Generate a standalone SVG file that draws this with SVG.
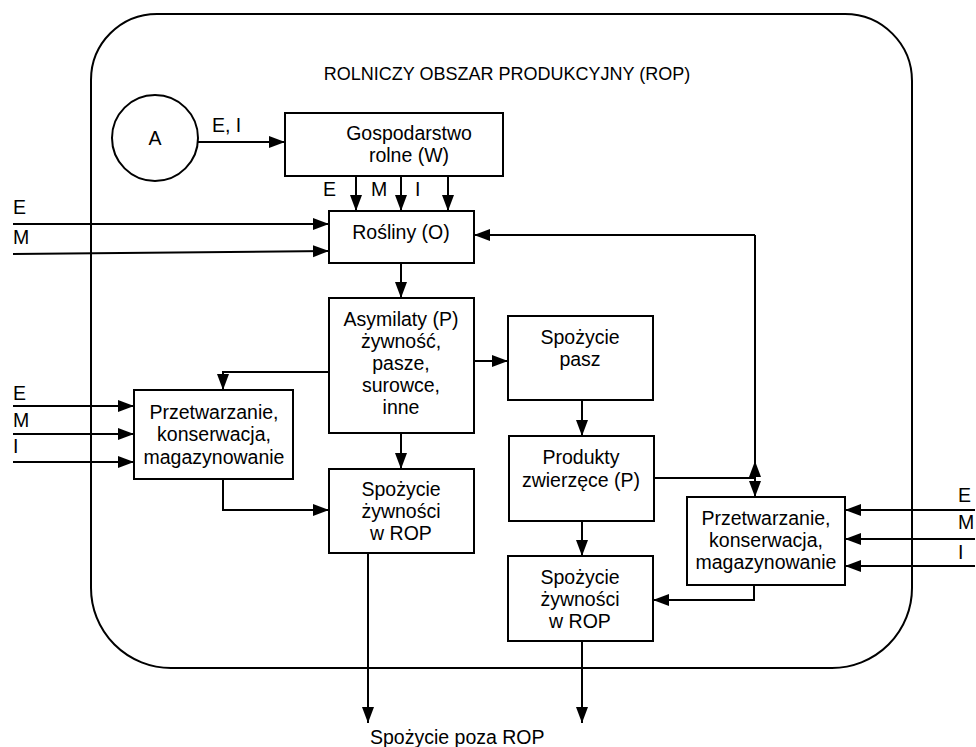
<svg xmlns="http://www.w3.org/2000/svg" width="976" height="747" viewBox="0 0 976 747">
  <style>
    text { font-family: "Liberation Sans", Arial, sans-serif; font-size: 19.5px; fill: #000; }
    .c { text-anchor: middle; }
    .title { font-size: 18px; }
    .box { fill: #fff; stroke: #000; stroke-width: 2; }
    .frame { fill: none; stroke: #000; stroke-width: 2; }
    .wire { fill: none; stroke: #000; stroke-width: 2; }
    .arr { marker-end: url(#head); }
  </style>
  <defs>
    <marker id="head" markerUnits="userSpaceOnUse" markerWidth="17" markerHeight="13" refX="16" refY="6" orient="auto">
      <path d="M0,0 L16,6 L0,12 Z" fill="#000"/>
    </marker>
  </defs>

  <rect width="976" height="747" fill="#fff"/>

  <!-- region boundary -->
  <g id="rop">
    <path class="frame" d="M157,14 H845 A67,67 0 0 1 912,81 V588 A80,80 0 0 1 832,668 H171 A80,80 0 0 1 91,588 V80 A66,66 0 0 1 157,14 Z"/>
    <text class="title c" x="507" y="80">ROLNICZY OBSZAR PRODUKCYJNY (ROP)</text>
  </g>

  <!-- connectors -->
  <g id="connectors">
    <path class="wire arr" d="M198,142 H285"/>
    <path class="wire arr" d="M356,176 V211"/>
    <path class="wire arr" d="M401,176 V211"/>
    <path class="wire arr" d="M448,176 V211"/>
    <path class="wire arr" d="M13,224 H329"/>
    <path class="wire arr" d="M13,254 L329,251"/>
    <path class="wire arr" d="M401,263 V298"/>
    <path class="wire arr" d="M329,372 H223 V390"/>
    <path class="wire arr" d="M474,361 H508"/>
    <path class="wire arr" d="M401,433 V469"/>
    <path class="wire arr" d="M13,406 H134"/>
    <path class="wire arr" d="M13,434 H134"/>
    <path class="wire arr" d="M13,462 H134"/>
    <path class="wire arr" d="M223,479 V510 H329"/>
    <path class="wire arr" d="M368,553 V723"/>
    <path class="wire arr" d="M582,400 V436"/>
    <path class="wire arr" d="M582,521 V556"/>
    <path class="wire arr" d="M582,641 V723"/>
    <path class="wire" d="M654,478 H755"/>
    <path class="wire arr" d="M755,235 V497"/>
    <path d="M755,461 L761,477 L749,477 Z" fill="#000"/>
    <path class="wire arr" d="M755,235 H474"/>
    <path class="wire arr" d="M975,510 H845"/>
    <path class="wire arr" d="M975,539 H845"/>
    <path class="wire arr" d="M975,566 H845"/>
    <path class="wire arr" d="M754,585 V600 H653"/>
  </g>

  <!-- flow labels -->
  <g id="labels">
    <text x="212" y="132">E, I</text>
    <text x="323" y="196">E</text>
    <text x="371" y="196">M</text>
    <text x="415" y="196">I</text>
    <text x="13" y="214">E</text>
    <text x="13" y="244">M</text>
    <text x="13" y="400">E</text>
    <text x="13" y="427">M</text>
    <text x="13" y="453">I</text>
    <text x="958" y="502">E</text>
    <text x="958" y="529">M</text>
    <text x="958" y="559">I</text>
    <text x="370" y="744">Spożycie poza ROP</text>
  </g>

  <g id="node-a">
    <circle cx="155" cy="138" r="43" fill="#fff" stroke="#000" stroke-width="2"/>
    <text class="c" x="155" y="145">A</text>
  </g>

  <g id="node-gospodarstwo">
    <rect class="box" x="285" y="113" width="218" height="63"/>
    <text class="c" x="409" y="140">Gospodarstwo</text>
    <text class="c" x="409" y="162">rolne (W)</text>
  </g>

  <g id="node-rosliny">
    <rect class="box" x="329" y="211" width="145" height="52"/>
    <text class="c" x="401" y="239">Rośliny (O)</text>
  </g>

  <g id="node-asymilaty">
    <rect class="box" x="329" y="298" width="145" height="135"/>
    <text class="c" x="401" y="326">Asymilaty (P)</text>
    <text class="c" x="401" y="348">żywność,</text>
    <text class="c" x="401" y="370">pasze,</text>
    <text class="c" x="401" y="392">surowce,</text>
    <text class="c" x="401" y="414">inne</text>
  </g>

  <g id="node-przetwarzanie-1">
    <rect class="box" x="134" y="390" width="159" height="89"/>
    <text class="c" x="214" y="419">Przetwarzanie,</text>
    <text class="c" x="214" y="441">konserwacja,</text>
    <text class="c" x="214" y="464">magazynowanie</text>
  </g>

  <g id="node-spozycie-1">
    <rect class="box" x="329" y="469" width="145" height="84"/>
    <text class="c" x="401" y="496">Spożycie</text>
    <text class="c" x="401" y="518">żywności</text>
    <text class="c" x="401" y="540">w ROP</text>
  </g>

  <g id="node-spozycie-pasz">
    <rect class="box" x="508" y="316" width="145" height="84"/>
    <text class="c" x="580" y="344">Spożycie</text>
    <text class="c" x="580" y="366">pasz</text>
  </g>

  <g id="node-produkty">
    <rect class="box" x="509" y="436" width="145" height="85"/>
    <text class="c" x="581" y="464">Produkty</text>
    <text class="c" x="581" y="487">zwierzęce (P)</text>
  </g>

  <g id="node-spozycie-2">
    <rect class="box" x="508" y="556" width="145" height="85"/>
    <text class="c" x="580" y="584">Spożycie</text>
    <text class="c" x="580" y="606">żywności</text>
    <text class="c" x="580" y="628">w ROP</text>
  </g>

  <g id="node-przetwarzanie-2">
    <rect class="box" x="687" y="497" width="158" height="88"/>
    <text class="c" x="766" y="525">Przetwarzanie,</text>
    <text class="c" x="766" y="547">konserwacja,</text>
    <text class="c" x="766" y="569">magazynowanie</text>
  </g>
</svg>
